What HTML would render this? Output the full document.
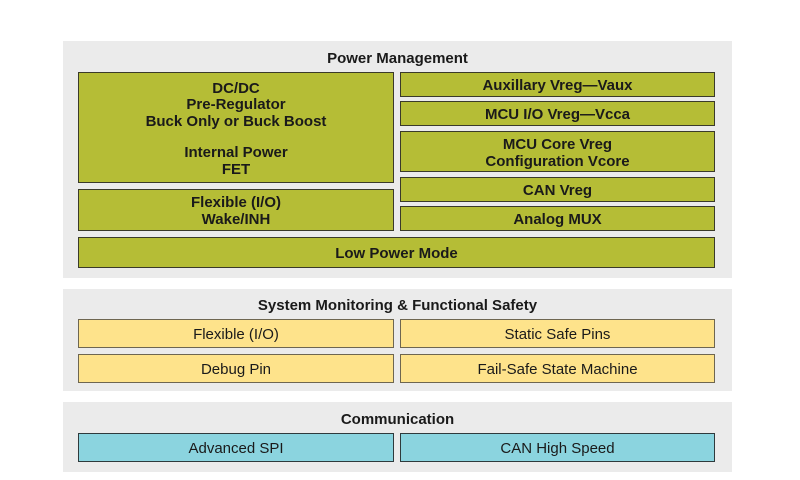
<!DOCTYPE html>
<html><head><meta charset="utf-8"><style>
html,body{margin:0;padding:0;background:#fff;}
body{width:800px;height:480px;position:relative;overflow:hidden;font-family:"Liberation Sans",Arial,sans-serif;color:#1a1a1a;}
.p{position:absolute;background:#ebebeb;}
.t{position:absolute;left:63px;width:669px;text-align:center;font-weight:bold;font-size:15px;line-height:18px;}
.b{position:absolute;box-sizing:border-box;border:1.5px solid #3a3a2a;display:flex;flex-direction:column;align-items:center;justify-content:center;text-align:center;font-size:15px;line-height:16.7px;padding-top:4px;}
.o{background:#b5bd36;font-weight:bold;}
.y{background:#fee38b;border-color:#6e6650;}
.c{background:#8bd4df;border-color:#2f3a3c;}
</style></head><body>
<div class="p" style="left:63px;top:41px;width:669px;height:237px;"></div>
<div class="p" style="left:63px;top:289px;width:669px;height:102px;"></div>
<div class="p" style="left:63px;top:402px;width:669px;height:70px;"></div>

<div class="t" style="top:50px;">Power Management</div>
<div class="t" style="top:297px;">System Monitoring &amp; Functional Safety</div>
<div class="t" style="top:411px;">Communication</div>

<div class="b o" style="left:78px;top:72px;width:316px;height:111px;">
<div>DC/DC</div><div>Pre-Regulator</div><div>Buck Only or Buck Boost</div><div style="height:14px"></div><div>Internal Power</div><div>FET</div></div>
<div class="b o" style="left:78px;top:189px;width:316px;height:42px;"><div>Flexible (I/O)</div><div>Wake/INH</div></div>
<div class="b o" style="left:78px;top:237px;width:637px;height:31px;">Low Power Mode</div>

<div class="b o" style="left:400px;top:72px;width:315px;height:25px;">Auxillary Vreg—Vaux</div>
<div class="b o" style="left:400px;top:101px;width:315px;height:25px;">MCU I/O Vreg—Vcca</div>
<div class="b o" style="left:400px;top:131px;width:315px;height:41px;"><div>MCU Core Vreg</div><div>Configuration Vcore</div></div>
<div class="b o" style="left:400px;top:177px;width:315px;height:25px;">CAN Vreg</div>
<div class="b o" style="left:400px;top:206px;width:315px;height:25px;">Analog MUX</div>

<div class="b y" style="left:78px;top:319px;width:316px;height:29px;">Flexible (I/O)</div>
<div class="b y" style="left:400px;top:319px;width:315px;height:29px;">Static Safe Pins</div>
<div class="b y" style="left:78px;top:354px;width:316px;height:29px;">Debug Pin</div>
<div class="b y" style="left:400px;top:354px;width:315px;height:29px;">Fail-Safe State Machine</div>

<div class="b c" style="left:78px;top:433px;width:316px;height:29px;">Advanced SPI</div>
<div class="b c" style="left:400px;top:433px;width:315px;height:29px;">CAN High Speed</div>
</body></html>
